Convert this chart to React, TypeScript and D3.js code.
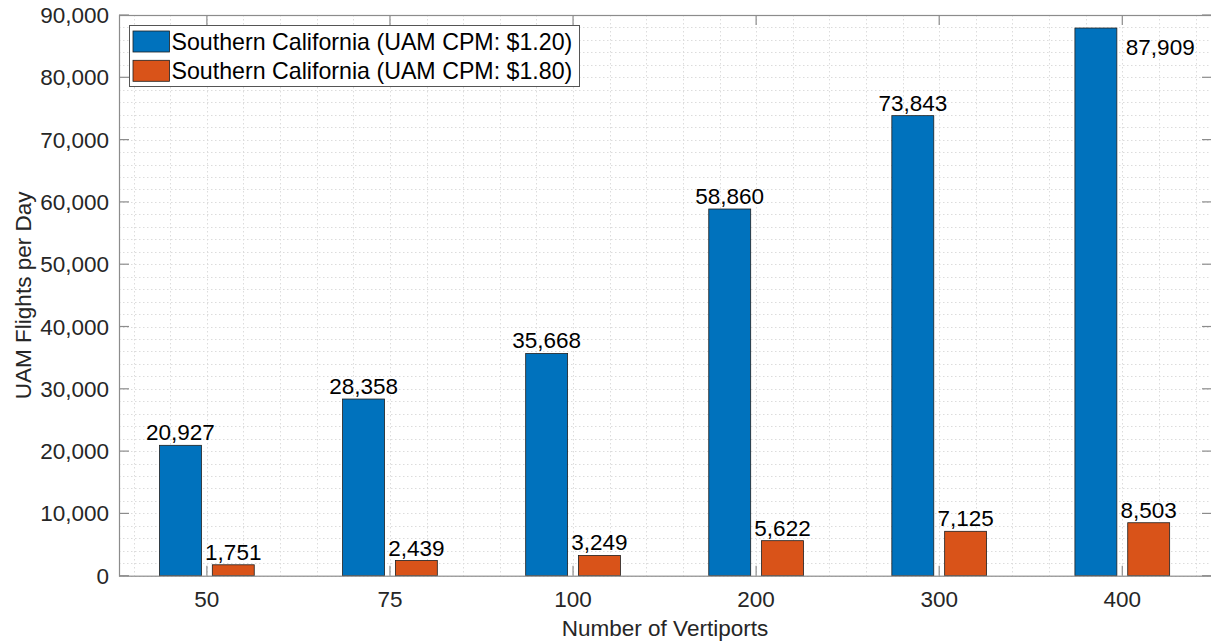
import React from "react";
import * as d3 from "d3";

const categories = ["50", "75", "100", "200", "300", "400"];
const seriesNames = [
  "Southern California (UAM CPM: $1.20)",
  "Southern California (UAM CPM: $1.80)",
];
const valuesLow = [20927, 28358, 35668, 58860, 73843, 87909];
const valuesHigh = [1751, 2439, 3249, 5622, 7125, 8503];
const yTicks = [0, 10000, 20000, 30000, 40000, 50000, 60000, 70000, 80000, 90000];
const colors = ["#0072BD", "#D95319"];

const W = 1211;
const H = 641;
const FONT = "'Liberation Sans', Arial, Helvetica, sans-serif";

export default function App() {
  const left = 119;
  const right = 1212;
  const top = 15;
  const bottom = 575.7;

  const x = d3.scaleLinear().domain([-0.48, 5.49]).range([left, right]);
  const y = d3.scaleLinear().domain([0, 90000]).range([bottom, top]);
  const fmt = d3.format(",");

  const barW = 0.229;
  const off = 0.1442;

  const minorY = d3.range(0, 90001, 2000);
  const minorX = d3.range(-0.4, 5.45, 0.2);

  const series = [valuesLow, valuesHigh];

  return (
    <svg
      width={W}
      height={H}
      style={{ position: "absolute", left: 0, top: 0, display: "block", background: "#fff" }}
      fontFamily={FONT}
    >
      <rect x={0} y={0} width={W} height={H} fill="#fff" />
      {/* grid */}
      <g stroke="#dcdcdc" strokeWidth={1} strokeDasharray="1.5,2.5">
        {minorY.map((v) => (
          <line key={"gy" + v} x1={left} x2={right} y1={Math.round(y(v)) + 0.5} y2={Math.round(y(v)) + 0.5} />
        ))}
        {minorX.map((v, i) => (
          <line key={"gx" + i} x1={Math.round(x(v)) + 0.5} x2={Math.round(x(v)) + 0.5} y1={top} y2={bottom} />
        ))}
      </g>

      {/* bars */}
      {series.map((vals, s) =>
        vals.map((v, i) => {
          const cx = x(i + (s === 0 ? -off : off));
          const w = x(barW) - x(0);
          const x0 = cx - w / 2;
          return (
            <rect
              key={`b${s}-${i}`}
              x={x0}
              y={y(v)}
              width={w}
              height={y(0) - y(v)}
              fill={colors[s]}
              stroke="#1f1f1f"
              strokeWidth={0.8}
            />
          );
        })
      )}

      {/* value labels */}
      {series.map((vals, s) =>
        vals.map((v, i) => {
          const cx = x(i + (s === 0 ? -off : off));
          const w = x(barW) - x(0);
          const overflow = y(v) - 27 < top;
          if (overflow) {
            return (
              <text key={`l${s}-${i}`} x={cx + w / 2 + 9} y={y(v) + 27} fontSize={22.5} fill="#000" textAnchor="start">
                {fmt(v)}
              </text>
            );
          }
          return (
            <text key={`l${s}-${i}`} x={cx} y={y(v) - 5} fontSize={22.5} fill="#000" textAnchor="middle">
              {fmt(v)}
            </text>
          );
        })
      )}

      {/* axes box */}
      <rect x={left + 0.5} y={top + 0.5} width={right - left} height={bottom - top} fill="none" stroke="#8c8c8c" strokeWidth={1.2} />

      {/* y ticks */}
      {yTicks.map((t) => (
        <g key={"yt" + t}>
          <line x1={left} x2={left + 10} y1={y(t)} y2={y(t)} stroke="#8c8c8c" strokeWidth={1.2} />
          <line x1={right - 10} x2={right} y1={y(t)} y2={y(t)} stroke="#8c8c8c" strokeWidth={1.2} />
          <text x={109} y={y(t) + 8} fontSize={22.5} fill="#262626" textAnchor="end">
            {fmt(t)}
          </text>
        </g>
      ))}

      {/* x ticks */}
      {categories.map((c, i) => (
        <g key={"xt" + c}>
          <line x1={x(i)} x2={x(i)} y1={bottom} y2={bottom - 10} stroke="#8c8c8c" strokeWidth={1.2} />
          <line x1={x(i)} x2={x(i)} y1={top} y2={top + 10} stroke="#8c8c8c" strokeWidth={1.2} />
          <text x={x(i)} y={607} fontSize={22.5} fill="#262626" textAnchor="middle">
            {c}
          </text>
        </g>
      ))}

      {/* axis labels */}
      <text x={665} y={635.5} fontSize={22.5} fill="#262626" textAnchor="middle">
        Number of Vertiports
      </text>
      <text
        transform={`translate(31,${(top + bottom) / 2}) rotate(-90)`}
        fontSize={22.5}
        fill="#262626"
        textAnchor="middle"
      >
        UAM Flights per Day
      </text>

      {/* legend */}
      <g>
        <rect x={129.5} y={25.5} width={450} height={61} fill="#fff" stroke="#555" strokeWidth={1} />
        {seriesNames.map((n, s) => (
          <g key={"lg" + s}>
            <rect x={133} y={31 + s * 29.3} width={36.5} height={21} fill={colors[s]} stroke="#1f1f1f" strokeWidth={0.8} />
            <text x={171.5} y={50 + s * 29.3} fontSize={23.2} fill="#000">
              {n}
            </text>
          </g>
        ))}
      </g>
    </svg>
  );
}
